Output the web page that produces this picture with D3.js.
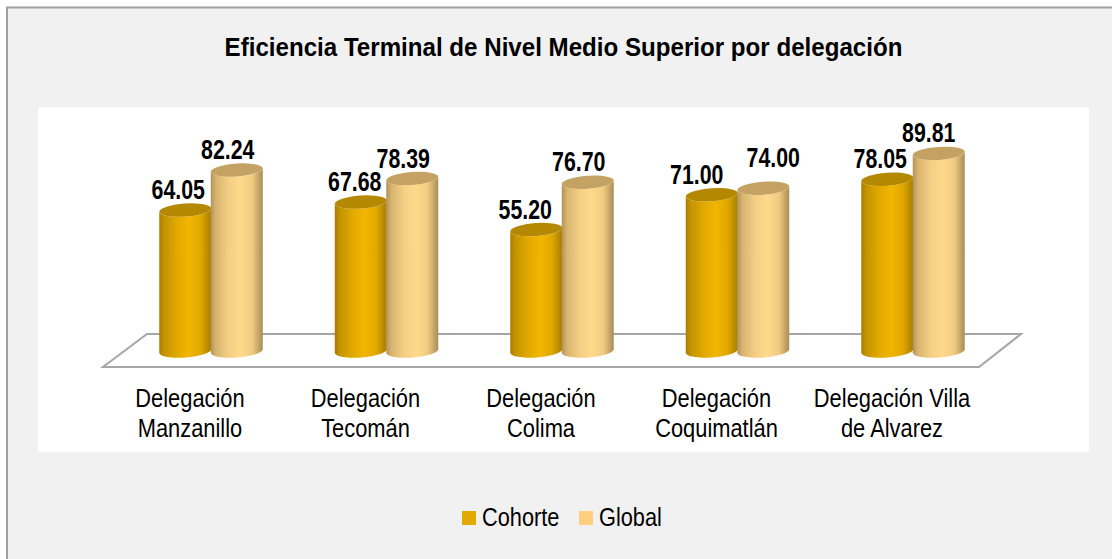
<!DOCTYPE html>
<html><head><meta charset="utf-8">
<script src="https://cdn.jsdelivr.net/npm/d3@7"></script>
<style>html,body{margin:0;padding:0;background:#fff;overflow:hidden}svg{display:block}</style>
</head><body><div id="c"></div>
<script>
const categories = ["Delegación Manzanillo","Delegación Tecomán","Delegación Colima","Delegación Coquimatlán","Delegación Villa de Alvarez"];
const cohorte = [64.05,67.68,55.20,71.00,78.05];
const globalVals = [82.24,78.39,76.70,74.00,89.81];
const seriesNames = ["Cohorte","Global"];

const W=1112,H=559;
const svg=d3.select("#c").append("svg").attr("width",W).attr("height",H);
const SANS='"Liberation Sans",Arial,sans-serif';

const defs=svg.append("defs");
function grad(id,stops){
  const g=defs.append("linearGradient").attr("id",id).attr("x1",0).attr("x2",1).attr("y1",0).attr("y2",0);
  stops.forEach(([o,c])=>g.append("stop").attr("offset",o).attr("stop-color",c));
}
grad("g0",[[0,"#a87e00"],[.1,"#c49400"],[.35,"#e2aa00"],[.58,"#f2b600"],[.8,"#e0a800"],[1,"#a67d00"]]);
grad("g1",[[0,"#b3925a"],[.1,"#d8b470"],[.35,"#f4cf84"],[.58,"#ffd98a"],[.8,"#f0ca80"],[1,"#a88c58"]]);
const capCol=["#b48800","#c4a263"], legendCol=["#e2a900","#ffcf7f"];

svg.append("rect").attr("width",W).attr("height",H).attr("fill","#fff");
svg.append("rect").attr("x",7).attr("y",7.5).attr("width",W+20).attr("height",H+20).attr("fill","#f1f1f1").attr("stroke","#a0a0a0").attr("stroke-width",2);
svg.append("rect").attr("x",38).attr("y",107).attr("width",1051).attr("height",345).attr("fill","#fff");

// condensed text: no narrow face is installed, so squeeze horizontally
function squeezed(parent,px,py,str,size,sx,anchor,weight){
  return parent.append("text").attr("transform",`translate(${px},${py}) scale(${sx},1)`)
    .attr("text-anchor",anchor).attr("font-family",SANS).attr("font-weight",weight)
    .attr("font-size",size).attr("fill","#000").text(str);
}
squeezed(svg,563.5,56,"Eficiencia Terminal de Nivel Medio Superior por delegación",26,0.928,"middle","bold");

const x=d3.scaleBand().domain(categories).range([123.25,1000.75]);
const inner=d3.scaleBand().domain(seriesNames).range([-51.5,51.5]);
const y=d3.scaleLinear().domain([0,100]).range([351,131]);

svg.append("path").attr("d",d3.line()([[147,334],[1021,334],[979,367],[103,367]])+"Z")
  .attr("fill","#fff").attr("stroke","#a6a6a6").attr("stroke-width",2);

const rx=26, ry=6.5, rot=-4;
function cyl(cx,top,i){
  const g=svg.append("g");
  const by=y(0);
  const dy=rx*Math.sin(rot*Math.PI/180);
  g.append("path").attr("d",
    `M${cx-rx},${top-dy} L${cx-rx},${by-dy} A${rx},${ry} ${rot} 0 0 ${cx+rx},${by+dy} L${cx+rx},${top+dy} A${rx},${ry} ${rot} 0 1 ${cx-rx},${top-dy}Z`)
    .attr("fill",`url(#g${i})`);
  g.append("ellipse").attr("cx",cx).attr("cy",top).attr("rx",rx).attr("ry",ry)
    .attr("transform",`rotate(${rot} ${cx} ${top})`).attr("fill",capCol[i]);
}
const series=[cohorte,globalVals];
const centre=(c,i)=>x(c)+x.bandwidth()/2+inner(seriesNames[i])+inner.bandwidth()/2;
categories.forEach((c,k)=>series.forEach((vals,i)=>cyl(centre(c,i),y(vals[k]),i)));

// value labels, hand-placed in the original
const nudgeX=[[-7,-9],[-6,-9],[-11,-9],[-15,10],[-7,-10]];
categories.forEach((c,k)=>{
  series.forEach((vals,i)=>{
    const extra=(k===3&&i===1)?-10:0;
    squeezed(svg,centre(c,i)+nudgeX[k][i],y(vals[k])-11+extra,vals[k].toFixed(2),27,0.79,"middle","bold");
  });
});

// category labels
const wrap={"Delegación Villa de Alvarez":["Delegación Villa","de Alvarez"]};
categories.forEach(c=>{
  const lines=wrap[c]||c.split(" ");
  lines.forEach((l,j)=>squeezed(svg,x(c)+x.bandwidth()/2-21,407+j*30,l,25,0.875,"middle","normal"));
});

// legend
const lx=[462,579];
seriesNames.forEach((s,i)=>{
  svg.append("rect").attr("x",lx[i]).attr("y",511).attr("width",14).attr("height",14).attr("fill",legendCol[i]);
  squeezed(svg,lx[i]+20,526,s,25,0.87,"start","normal");
});
</script></body></html>
